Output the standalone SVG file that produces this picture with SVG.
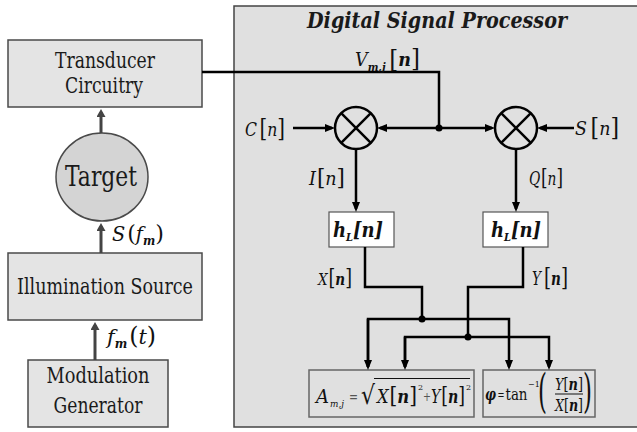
<svg xmlns="http://www.w3.org/2000/svg" width="637" height="432" viewBox="0 0 637 432">
<style>
text{font-family:'DejaVu Serif','Liberation Serif',serif;fill:#1a1a1a}
.box{fill:#e4e4e4;stroke:#4a4a4a;stroke-width:1.5}
.big{font-size:22px}
.math{fill:#111}
.it{font-style:italic}
.bi{font-style:italic;font-weight:bold}
.wire{stroke:#000;stroke-width:2.5;fill:none}
.lw{stroke:#444;stroke-width:3;fill:none}
.gray{fill:#555}
</style>
<defs>
<marker id="ah" markerWidth="10" markerHeight="8" refX="7" refY="4" orient="auto" markerUnits="userSpaceOnUse"><path d="M0,0 L10,4 L0,8 z" fill="#000"/></marker>
<marker id="ahg" markerWidth="8" markerHeight="9" refX="5" refY="4.5" orient="auto" markerUnits="userSpaceOnUse"><path d="M0,0 L8,4.5 L0,9 z" fill="#444"/></marker>
</defs>
<rect width="637" height="432" fill="#fff"/>

<g id="dsp">
<rect x="234" y="6" width="410" height="421" fill="#e0e0e0" stroke="#444" stroke-width="1.5"/>
<text x="437" y="28" class="bi" font-size="22" text-anchor="middle" textLength="260" lengthAdjust="spacingAndGlyphs">Digital Signal Processor</text>
</g>

<g id="transducer">
<rect class="box" x="8" y="40" width="194" height="67"/>
<text class="big" x="105" y="68" text-anchor="middle" textLength="100" lengthAdjust="spacingAndGlyphs">Transducer</text>
<text class="big" x="104" y="93" text-anchor="middle" textLength="78" lengthAdjust="spacingAndGlyphs">Circuitry</text>
</g>
<g id="target">
<ellipse cx="102" cy="177" rx="46" ry="44" fill="#d4d4d4" stroke="#4a4a4a" stroke-width="1.5"/>
<text x="101" y="186" font-size="28" text-anchor="middle" textLength="72" lengthAdjust="spacingAndGlyphs">Target</text>
</g>
<g id="illumination">
<rect class="box" x="8" y="253" width="194" height="67"/>
<text class="big" x="105" y="294" text-anchor="middle" textLength="176" lengthAdjust="spacingAndGlyphs">Illumination Source</text>
</g>
<g id="modulation">
<rect class="box" x="28" y="360" width="140" height="67"/>
<text class="big" x="98" y="383" text-anchor="middle" textLength="103" lengthAdjust="spacingAndGlyphs">Modulation</text>
<text class="big" x="98" y="413" text-anchor="middle" textLength="89" lengthAdjust="spacingAndGlyphs">Generator</text>
</g>

<g id="mixI">
<circle cx="356" cy="128" r="21" fill="none" stroke="#000" stroke-width="2.5"/>
<path d="M341.2,113.2 L370.8,142.8 M370.8,113.2 L341.2,142.8" stroke="#000" stroke-width="2.5"/>
</g>
<g id="mixQ">
<circle cx="516" cy="128" r="21" fill="none" stroke="#000" stroke-width="2.5"/>
<path d="M501.2,113.2 L530.8,142.8 M530.8,113.2 L501.2,142.8" stroke="#000" stroke-width="2.5"/>
</g>
<g id="lpfI">
<rect x="329" y="212" width="65" height="35" fill="#fff" stroke="#555" stroke-width="1.2"/>
<text class="math bi" x="358" y="237" text-anchor="middle" font-size="20" textLength="50" lengthAdjust="spacingAndGlyphs">h<tspan font-size="11" dy="4">L</tspan><tspan dy="-4">[n]</tspan></text>
</g>
<g id="lpfQ">
<rect x="483" y="212" width="65" height="35" fill="#fff" stroke="#555" stroke-width="1.2"/>
<text class="math bi" x="516" y="237" text-anchor="middle" font-size="20" textLength="50" lengthAdjust="spacingAndGlyphs">h<tspan font-size="11" dy="4">L</tspan><tspan dy="-4">[n]</tspan></text>
</g>
<g id="amplitude">
<rect x="309" y="370" width="165" height="47" fill="#e0e0e0" stroke="#666" stroke-width="1.5"/>
<text class="math it" x="316" y="403" font-size="19" fill="#333" textLength="13" lengthAdjust="spacingAndGlyphs">A</text>
<text class="math it" x="330" y="407" font-size="10" fill="#444" textLength="14" lengthAdjust="spacingAndGlyphs">m,j</text>
<text class="gray" x="349" y="402" font-size="16" textLength="9" lengthAdjust="spacingAndGlyphs">=</text>
<text class="math" x="361" y="404" font-size="26" textLength="14" lengthAdjust="spacingAndGlyphs">√</text>
<line x1="374" y1="378.5" x2="470" y2="378.5" stroke="#111" stroke-width="1.2"/>
<text class="math" x="377" y="403" font-size="18" textLength="40" lengthAdjust="spacingAndGlyphs"><tspan class="it">X</tspan><tspan font-size="22" dx="1">[</tspan><tspan class="bi">n</tspan><tspan font-size="22">]</tspan></text>
<text class="math" x="418" y="390" font-size="8">2</text>
<text class="gray" x="423" y="401" font-size="13" textLength="8" lengthAdjust="spacingAndGlyphs">+</text>
<text class="math" x="431" y="403" font-size="18" textLength="34" lengthAdjust="spacingAndGlyphs"><tspan class="it">Y</tspan><tspan font-size="22" dx="1">[</tspan><tspan class="bi">n</tspan><tspan font-size="22">]</tspan></text>
<text class="math" x="466" y="390" font-size="8">2</text>
</g>
<g id="phase">
<rect x="483" y="370" width="112" height="47" fill="#e0e0e0" stroke="#666" stroke-width="1.5"/>
<text class="math bi" x="485" y="400" font-size="17" textLength="11" lengthAdjust="spacingAndGlyphs">φ</text>
<text class="math" x="497.5" y="399" font-size="13" textLength="7" lengthAdjust="spacingAndGlyphs">=</text>
<text class="math" x="505.5" y="400" font-size="16" textLength="22" lengthAdjust="spacingAndGlyphs">tan</text>
<text class="math" x="528" y="387" font-size="8">−1</text>
<text class="math" transform="translate(538,407) scale(0.5,1)" font-size="46">(</text>
<text class="math" x="569" y="390" font-size="16" text-anchor="middle" textLength="28" lengthAdjust="spacingAndGlyphs"><tspan class="it">Y</tspan>[<tspan class="bi">n</tspan>]</text>
<line x1="555" y1="394" x2="583" y2="394" stroke="#111" stroke-width="1"/>
<text class="math" x="569" y="411" font-size="16" text-anchor="middle" textLength="28" lengthAdjust="spacingAndGlyphs"><tspan class="it">X</tspan>[<tspan class="bi">n</tspan>]</text>
<text class="math" transform="translate(583,407) scale(0.5,1)" font-size="46">)</text>
</g>

<g id="connectors">
<line class="lw" x1="101" y1="133" x2="101" y2="112" marker-end="url(#ahg)"/>
<line class="lw" x1="101" y1="253" x2="101" y2="226" marker-end="url(#ahg)"/>
<line class="lw" x1="95" y1="360" x2="95" y2="325" marker-end="url(#ahg)"/>
<polyline class="wire" points="202,72 439,72 439,128"/>
<line class="wire" x1="439" y1="128" x2="380" y2="128" marker-end="url(#ah)"/>
<line class="wire" x1="439" y1="128" x2="492" y2="128" marker-end="url(#ah)"/>
<circle cx="439" cy="128" r="3.5" fill="#000"/>
<line class="wire" x1="293" y1="128" x2="332" y2="128" marker-end="url(#ah)"/>
<line class="wire" x1="574" y1="128" x2="540" y2="128" marker-end="url(#ah)"/>
<line class="wire" x1="356" y1="149" x2="356" y2="209" marker-end="url(#ah)"/>
<line class="wire" x1="516" y1="149" x2="516" y2="209" marker-end="url(#ah)"/>
<polyline class="wire" points="365,247 365,287 422,287 422,319"/>
<polyline class="wire" points="368,367 368,319 509,319 509,367" marker-end="url(#ah)"/>
<line class="wire" x1="368" y1="319" x2="368" y2="367" marker-end="url(#ah)"/>
<circle cx="422" cy="319" r="3.5" fill="#000"/>
<polyline class="wire" points="523,247 523,287 468,287 468,337"/>
<polyline class="wire" points="405,367 405,337 549,337 549,367" marker-end="url(#ah)"/>
<line class="wire" x1="405" y1="337" x2="405" y2="367" marker-end="url(#ah)"/>
<circle cx="468" cy="337" r="3.5" fill="#000"/>
</g>

<g id="labels">
<text class="math" x="355" y="66" font-size="19" textLength="65" lengthAdjust="spacingAndGlyphs"><tspan class="it">V</tspan><tspan class="bi" font-size="11" dy="5">m,j</tspan><tspan font-size="25" dy="-4" dx="4">[</tspan><tspan class="bi" dy="-1">n</tspan><tspan font-size="25">]</tspan></text>
<text class="math" x="245" y="136" font-size="19" textLength="40" lengthAdjust="spacingAndGlyphs"><tspan class="it">C</tspan><tspan font-size="24" dx="3">[</tspan><tspan class="it">n</tspan><tspan font-size="24">]</tspan></text>
<text class="math" x="575" y="135" font-size="19" textLength="44" lengthAdjust="spacingAndGlyphs"><tspan class="it">S</tspan><tspan font-size="24" dx="4">[</tspan><tspan class="it">n</tspan><tspan font-size="24">]</tspan></text>
<text class="math" x="309" y="185" font-size="18" textLength="36" lengthAdjust="spacingAndGlyphs"><tspan class="it">I</tspan><tspan font-size="22" dx="1">[</tspan><tspan class="it">n</tspan><tspan font-size="22">]</tspan></text>
<text class="math" x="529" y="185" font-size="18" textLength="34" lengthAdjust="spacingAndGlyphs"><tspan class="it">Q</tspan><tspan font-size="22" dx="1">[</tspan><tspan class="it">n</tspan><tspan font-size="22">]</tspan></text>
<text class="math" x="318" y="285" font-size="17" textLength="34" lengthAdjust="spacingAndGlyphs"><tspan class="it">X</tspan><tspan font-size="22" dx="1">[</tspan><tspan class="bi">n</tspan><tspan font-size="22">]</tspan></text>
<text class="math" x="532" y="285" font-size="18" textLength="36" lengthAdjust="spacingAndGlyphs"><tspan class="it">Y</tspan><tspan font-size="24" dx="4">[</tspan><tspan class="bi">n</tspan><tspan font-size="24">]</tspan></text>
<text class="math" x="112" y="241" font-size="20" textLength="52" lengthAdjust="spacingAndGlyphs"><tspan class="it">S</tspan><tspan font-size="23" dx="2">(</tspan><tspan class="it">f</tspan><tspan class="bi" font-size="12" dy="4">m</tspan><tspan font-size="23" dy="-4">)</tspan></text>
<text class="math" x="107" y="344" font-size="21" textLength="49" lengthAdjust="spacingAndGlyphs"><tspan class="it">f</tspan><tspan class="bi" font-size="12" dy="4">m</tspan><tspan font-size="24" dy="-4" dx="2">(</tspan><tspan class="it">t</tspan><tspan font-size="24">)</tspan></text>
</g>
</svg>
